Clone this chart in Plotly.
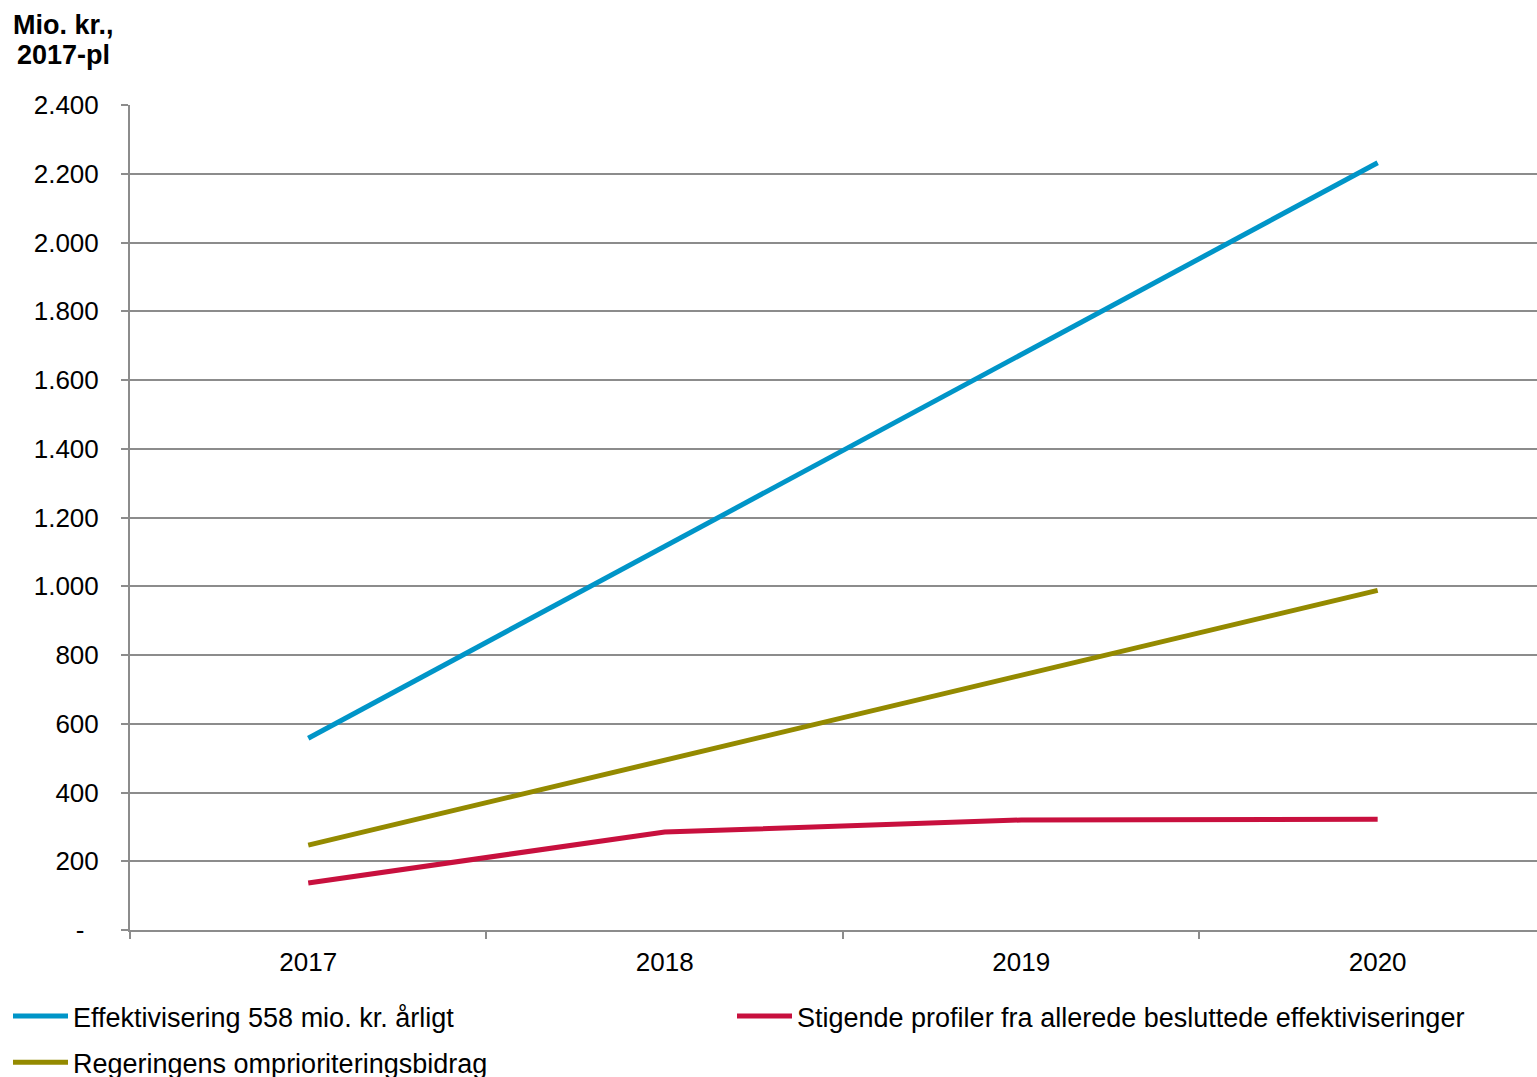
import plotly.graph_objects as go

years = ["2017", "2018", "2019", "2020"]
effektivisering = [558, 1116, 1674, 2232]
stigende = [137, 285, 320, 322]
regeringens = [247, 494, 741, 988]

names = [
    "Effektivisering 558 mio. kr. årligt",
    "Stigende profiler fra allerede besluttede effektiviseringer",
    "Regeringens omprioriteringsbidrag",
]
colors = ["rgb(0,149,200)", "rgb(200,16,62)", "rgb(148,138,0)"]
legends = ["legend", "legend2", "legend"]

y_tickvals = [0, 200, 400, 600, 800, 1000, 1200, 1400, 1600, 1800, 2000, 2200, 2400]
y_ticktext = ["-\u00a0\u00a0", "200", "400", "600", "800", "1.000", "1.200", "1.400", "1.600",
              "1.800", "2.000", "2.200", "2.400"]

FONT = "Liberation Sans, Arial, sans-serif"
GRID = "#8c8c8c"
W, H = 1537, 1077
L, T, B = 130, 105, 147
PW, PH = W - L, H - T - B

fig = go.Figure()
for i, (name, vals, col, lg) in enumerate(zip(names, [effektivisering, stigende, regeringens], colors, legends)):
    fig.add_trace(go.Scatter(x=years, y=vals, mode="lines", name=name,
                             legend=lg, legendgroup=f"g{i}",
                             line=dict(color=col, width=5)))

legend_common = dict(
    orientation="v", xref="container", yref="container",
    xanchor="left", yanchor="top",
    font=dict(family=FONT, size=27, color="black"),
    itemwidth=55, bgcolor="rgba(0,0,0,0)", tracegroupgap=8,
)

def px_x(x):
    return (x - L) / PW

def px_y(y):
    return (H - B - y) / PH

fig.update_layout(
    width=W, height=H,
    margin=dict(l=L, r=0, t=T, b=B, autoexpand=False),
    paper_bgcolor="white", plot_bgcolor="white",
    font=dict(family=FONT, size=26, color="black"),
    showlegend=True,
    legend=dict(x=8 / W, y=1 - 992 / H, **legend_common),
    legend2=dict(x=732 / W, y=1 - 992 / H, **legend_common),
    xaxis=dict(
        type="category", range=[-0.5, 3.447],
        showgrid=False, showline=True, linecolor=GRID, linewidth=2,
        ticks="outside", tickson="boundaries", ticklen=7, tickwidth=2, tickcolor=GRID,
        tickfont=dict(family=FONT, size=26), ticklabelstandoff=8,
        automargin=False, fixedrange=True,
    ),
    yaxis=dict(
        range=[0, 2400], tickvals=y_tickvals, ticktext=y_ticktext,
        showgrid=True, gridcolor=GRID, gridwidth=2,
        showline=True, linecolor=GRID, linewidth=2,
        ticks="outside", ticklen=7, tickwidth=2, tickcolor=GRID,
        tickfont=dict(family=FONT, size=26), ticklabelstandoff=17,
        zeroline=False, automargin=False, fixedrange=True,
    ),
    annotations=[
        dict(text="<b>Mio. kr.,</b>", xref="paper", yref="paper",
             x=px_x(63), y=px_y(25), xanchor="center", yanchor="middle", showarrow=False,
             font=dict(family=FONT, size=27, color="black")),
        dict(text="<b>2017-pl</b>", xref="paper", yref="paper",
             x=px_x(63), y=px_y(55), xanchor="center", yanchor="middle", showarrow=False,
             font=dict(family=FONT, size=27, color="black")),
    ],
)

fig.write_html("out.html", config={"displayModeBar": False},
               post_script="document.body.style.margin='0px';")
